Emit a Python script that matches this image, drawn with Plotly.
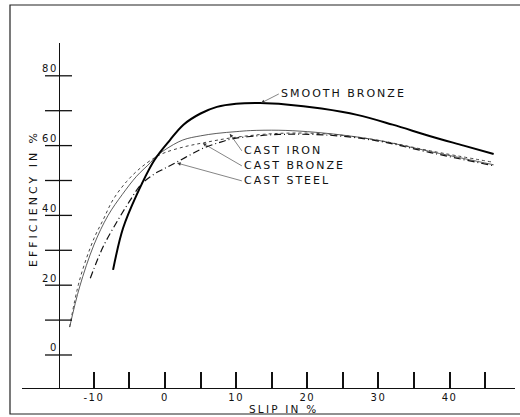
import plotly.graph_objects as go

# ---- data ----
smooth_bronze_x = [-7.3, -5.9, -4.0, -1.5, 0.7, 2.6, 5.0, 7.3, 10.0, 13.4, 17.0, 22.0, 27.0, 32.0, 37.3, 42.0, 46.2]
smooth_bronze_y = [24.4, 36.3, 45.8, 55.8, 61.6, 66.0, 69.2, 71.1, 72.0, 72.2, 71.8, 70.6, 68.8, 66.0, 62.7, 60.0, 57.6]

cast_iron_x = [-13.4, -12.0, -10.0, -8.0, -6.0, -4.0, -2.0, -1.4, 0.0, 2.5, 5.0, 7.3, 10.0, 12.0, 16.0, 20.0, 25.0, 30.0, 37.3, 42.0, 46.2]
cast_iron_y = [8.0, 19.5, 31.5, 40.0, 46.0, 51.2, 55.2, 56.6, 58.8, 61.6, 62.8, 63.5, 64.0, 64.3, 64.4, 64.0, 63.0, 61.5, 58.3, 56.3, 54.5]

cast_bronze_x = [-13.4, -12.0, -10.0, -8.7, -7.3, -5.4, -3.5, -1.4, 0.0, 2.6, 5.4, 9.6, 16.0, 23.0, 30.0, 37.3, 46.2]
cast_bronze_y = [8.0, 21.5, 33.3, 38.7, 44.5, 49.7, 53.5, 56.6, 58.0, 59.6, 60.8, 62.3, 63.5, 63.3, 61.5, 58.5, 55.2]

cast_steel_x = [-10.5, -8.7, -6.6, -5.0, -3.3, -1.4, 0.0, 1.6, 3.5, 5.4, 7.5, 9.6, 13.0, 16.0, 23.0, 30.0, 37.3, 46.2]
cast_steel_y = [22.0, 31.0, 38.7, 44.0, 49.0, 52.0, 53.5, 55.2, 57.3, 59.3, 60.8, 62.0, 62.8, 63.2, 63.0, 61.3, 58.0, 54.2]

x_tick_vals = [-10, -5, 0, 5, 10, 15, 20, 25, 30, 35, 40, 45]
x_tick_text = ["-10", "", "0", "", "10", "", "20", "", "30", "", "40", ""]
y_tick_vals = [0, 10, 20, 30, 40, 50, 60, 70, 80]
y_tick_text = ["0", "", "20", "", "40", "", "60", "", "80"]

FONT = "DejaVu Sans"
INK = "#111"


def spaced(s, sp=2):
    return f'<span style="letter-spacing:{sp}px">{s}</span>'


fig = go.Figure()
fig.add_trace(go.Scatter(x=cast_iron_x, y=cast_iron_y, mode="lines", line=dict(color="#333", width=0.8, shape="spline"),
                         name="Cast iron", showlegend=False))
fig.add_trace(go.Scatter(x=cast_bronze_x, y=cast_bronze_y, mode="lines", line=dict(color="#444", width=1.0, dash="dot", shape="spline"),
                         name="Cast bronze", showlegend=False))
fig.add_trace(go.Scatter(x=cast_steel_x, y=cast_steel_y, mode="lines", line=dict(color="#111", width=1.2, dash="7px,3px,1px,3px", shape="spline"),
                         name="Cast steel", showlegend=False))
fig.add_trace(go.Scatter(x=smooth_bronze_x, y=smooth_bronze_y, mode="lines", line=dict(color="#000", width=2, shape="spline"),
                         name="Smooth bronze", showlegend=False))

# pixel layout
W, H = 520, 417
L, R, T, B = 22, 5, 43, 29
pw, ph = W - L - R, H - T - B
yaxis_px = 59
pos = (yaxis_px - L) / pw


def px_x(p):
    return (p - L) / pw


def px_y(p):
    return (H - B - p) / ph


fig.update_layout(
    width=W, height=H,
    margin=dict(l=L, r=R, t=T, b=B, autoexpand=False),
    paper_bgcolor="white", plot_bgcolor="white",
    font=dict(family=FONT, color=INK),
    xaxis=dict(range=[-20.1, 49.2], tickvals=x_tick_vals, ticktext=[spaced(t, 1.5) for t in x_tick_text],
               ticks="inside", ticklen=16, tickwidth=1.6, tickcolor=INK, automargin=False,
               showline=True, linecolor=INK, linewidth=1.3, showgrid=False, zeroline=False,
               tickfont=dict(size=10, family=FONT, color=INK)),
    yaxis=dict(range=[-9.46, 89.4], anchor="free", position=pos, tickvals=y_tick_vals,
               ticktext=[spaced(t, 1.5) for t in y_tick_text], ticks="", automargin=False,
               showline=True, linecolor=INK, linewidth=1.3, showgrid=False, zeroline=False,
               tickfont=dict(size=10, family=FONT, color=INK), ticklabelstandoff=-1, ticklabelshift=-7),
)

# y-axis tick marks crossing the axis on both sides
for v in y_tick_vals:
    fig.add_shape(type="line", xref="paper", yref="y", x0=px_x(45), x1=px_x(72), y0=v, y1=v,
                  line=dict(color=INK, width=1.3))

# frame (open on the right)
x0, x1 = px_x(10), px_x(520)
yt, yb = px_y(5), px_y(414)
fig.add_shape(type="path", xref="paper", yref="paper",
              path=f"M {x1},{yt} L {x0},{yt} L {x0},{yb} L {x1},{yb}",
              line=dict(color="#222", width=1.2))

# axis titles
fig.add_annotation(text=spaced("SLIP IN %", 2.2), xref="paper", yref="paper", x=px_x(283), y=px_y(409),
                   xanchor="center", yanchor="middle",
                   showarrow=False, font=dict(size=10.5, family=FONT, color=INK))
fig.add_annotation(text=spaced("EFFICIENCY IN %", 3), xref="paper", yref="paper", x=px_x(33), y=px_y(199),
                   xanchor="center", yanchor="middle",
                   showarrow=False, textangle=-90, font=dict(size=11, family=FONT, color=INK))

# curve labels with leaders
labels = [
    ("SMOOTH BRONZE", 13.5, 72.2, 16.0, 74.8),
    ("CAST IRON", 9.1, 63.4, 10.8, 58.5),
    ("CAST BRONZE", 5.3, 60.7, 10.8, 54.2),
    ("CAST STEEL", 1.7, 55.0, 10.8, 49.9),
]
for text, hx, hy, tx, ty in labels:
    fig.add_annotation(text=spaced(text, 2), x=hx, y=hy, ax=tx, ay=ty, axref="x", ayref="y",
                       xanchor="left", yanchor="middle", showarrow=True,
                       arrowhead=2, arrowsize=1.2, arrowwidth=0.6, arrowcolor="#333",
                       font=dict(size=11, family=FONT, color=INK))

fig.write_html("out.html")
